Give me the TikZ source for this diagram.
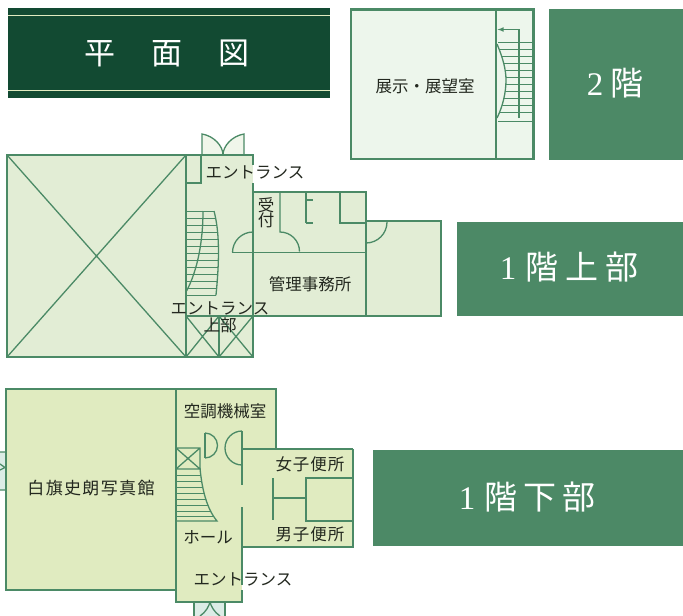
\documentclass[tikz,border=0pt]{standalone}
\usepackage{fontspec}
\setmainfont{Noto Sans CJK JP}
\newfontfamily\latinserif{Liberation Serif}
\definecolor{wall}{HTML}{4B8A66}
\definecolor{band}{HTML}{4C8966}
\definecolor{dark}{HTML}{124A32}
\definecolor{roomA}{HTML}{E2EDD5}
\definecolor{roomB}{HTML}{E0EBC0}
\definecolor{roomC}{HTML}{EDF6EC}
\definecolor{doorblue}{HTML}{DCECE6}
\definecolor{ink}{HTML}{23281F}
\tikzset{
  wallline/.style={draw=wall,line width=2.1pt,line join=miter},
  thin wall/.style={draw=wall,line width=1.3pt},
  label/.style={inner sep=0pt,text=ink,font=\fontsize{16.5}{18}\selectfont,align=center},
  bandbox/.style={fill=band,draw=none},
  bandtext/.style={inner sep=0pt,text=white,font=\fontsize{33}{36}\selectfont},
}
\begin{document}
\begin{tikzpicture}[x=1pt,y=-1pt]
\useasboundingbox[fill=white] (0,0) rectangle (683,616);
% title
\fill[dark] (8,8) rectangle (330,98);
\draw[draw=roomB,line width=1pt] (8,15.5) -- (330,15.5) (8,90.5) -- (330,90.5);
\node[inner sep=0pt,text=white,font=\fontsize{31}{34}\selectfont] (title) at (167,53) {平\hspace{36pt}面\hspace{36pt}図};
% bands
\fill[bandbox] (549,9) rectangle (683,160);
\node[bandtext] (b2) at (615,83) {{\latinserif 2}\hspace{7pt}階};
\fill[bandbox] (457,222) rectangle (683,316);
\node[bandtext] (b1u) at (569,267) {{\latinserif 1}\hspace{9pt}階\hspace{7pt}上\hspace{7pt}部};
\fill[bandbox] (373,450) rectangle (683,546);
\node[bandtext] (b1l) at (527,497) {{\latinserif 1}\hspace{9pt}階\hspace{6pt}下\hspace{6pt}部};
% ---------- 2F
\filldraw[wallline,fill=roomC] (351,9.5) rectangle (533.5,159);
\draw[wallline] (496,9.5) -- (496,159);
\foreach \yy in {42,49,56,63,70,77,84,91,98,105,112,121}
  \draw[wall,line width=1pt] (498,\yy) -- (532,\yy);
\fill[roomC] (497.2,43) .. controls (503,58) and (506,70) .. (506,80) .. controls (506,92) and (503,106) .. (497.2,119) -- cycle;
\draw[thin wall] (497,44) .. controls (503,58) and (506,70) .. (506,80) .. controls (506,92) and (503,106) .. (497,118);
\draw[wall,line width=1.1pt,-latex] (519,118) -- (519,29.5) -- (497.5,29.5);
\node[label] (r2) at (425,86) {展示・展望室};
% ---------- 1F upper
\fill[roomA!50!white] (202,134) .. controls (214,136) and (223,146) .. (223,155) .. controls (223,146) and (232,136) .. (244,134) -- (244,155) -- (202,155) -- cycle;
\draw[thin wall] (202,155) -- (202,134) .. controls (214,136) and (223,146) .. (223,155) .. controls (223,146) and (232,136) .. (244,134) -- (244,155);
\path[fill=roomA] (7,155) rectangle (253,357);
\path[fill=roomA] (253,192) rectangle (366,316);
\path[fill=roomA] (366,221) rectangle (441,316);
\draw[wallline] (253,165) -- (253,155) -- (7,155) -- (7,357) -- (253,357) -- (253,192);
\draw[wallline] (253,183) -- (253,192) -- (366,192) -- (366,316);
\draw[wallline] (366,221) -- (441,221) -- (441,316) -- (253,316);
\draw[wallline] (186,155) -- (186,357);
\draw[thin wall] (7,155) -- (186,357) (186,155) -- (7,357);
\draw[thin wall] (186,183) -- (201,183) -- (201,155);
% stairs upper
\begin{scope}
\clip (186,205) -- (214,205) -- (214,211) .. controls (219,230) and (220,255) .. (216,296) -- (186,296) -- cycle;
\foreach \yy in {211,218,225,232,239,246,253,260,267,274,281,288,295}
  \draw[wall,line width=1pt] (186,\yy) -- (225,\yy);
\end{scope}
\draw[thin wall] (214,211) .. controls (219,230) and (220,255) .. (216,295);
\draw[thin wall] (203,211) .. controls (203,240) and (198,270) .. (186,292);
% grid lower
\draw[thin wall] (186,316) -- (253,316) (219,316) -- (219,357);
\draw[thin wall] (186,316) -- (219,357) (219,316) -- (186,357) (219,316) -- (253,357) (253,316) -- (219,357);
% interior
\draw[thin wall] (280,192) -- (280,232) arc[start angle=-90,end angle=0,radius=19.5];
\draw[thin wall] (253,232) arc[start angle=-90,end angle=-180,radius=20.5];
\draw[thin wall] (232,252.5) -- (366,252.5);
\draw[thin wall] (306,193) -- (306,223) (306,200) -- (313,200) (306,223) -- (313,223);
\draw[thin wall] (340,192) -- (340,223) -- (366,223);
\draw[thin wall] (366,243) arc[start angle=90,end angle=0,radius=21];
\node[label] (eu1) at (255,172) {エントランス};
\node[label] (uk) at (266,212.5) {受\\[-3pt]付};
\node[label] (kanri) at (310,284) {管理事務所};
\node[label] (eu2) at (220,308) {エントランス};
\node[label] (jb) at (220,325) {上部};
% ---------- 1F lower
\fill[doorblue] (0,452) rectangle (6,490);
\draw[thin wall] (0,452) -- (6,452) (0,490) -- (6,490) (0,464) -- (5,467.5) -- (0,470);
\fill[doorblue] (194,602) rectangle (225,616);
\draw[thin wall] (194,602) -- (194,616) (225,602) -- (225,616);
\draw[thin wall] (200,616) .. controls (206,612) and (209,606) .. (210,602) .. controls (211,606) and (214,612) .. (220,616);
\path[fill=roomB] (6,389) rectangle (176,590);
\path[fill=roomB] (176,389) rectangle (276,449);
\path[fill=roomB] (176,449) rectangle (242,602);
\path[fill=roomB] (242,449) rectangle (353,547);
\draw[wallline] (176,590) -- (6,590) -- (6,389) -- (276,389) -- (276,449);
\draw[wallline] (353,449) -- (353,547) -- (242,547) -- (242,507);
\draw[wallline] (242,547) -- (242,585) (242,590) -- (242,602) -- (176,602) -- (176,389);
\draw[wallline] (353,449) -- (276,449);
\draw[thin wall] (242,449) -- (276,449);
\draw[thin wall] (242,431) -- (242,485);
\draw[thin wall] (205,433) -- (205,458);
\draw[thin wall] (205,433) arc[start angle=-90,end angle=90,radius=12.5];
\draw[thin wall] (242,431) arc[start angle=-90,end angle=-270,radius=17];
\draw[thin wall] (176,448) -- (200,448) -- (200,469) -- (176,469) (176,448) -- (200,469) (200,448) -- (176,469);
\begin{scope}
\clip (176,469) -- (200,469) .. controls (202,490) and (207,509) .. (217,521) -- (176,521) -- cycle;
\foreach \yy in {475,481,487,493,499,505,511,516}
  \draw[wall,line width=1pt] (176,\yy) -- (220,\yy);
\end{scope}
\draw[thin wall] (200,468) .. controls (202,490) and (207,509) .. (217,521) -- (176,521);
\draw[thin wall] (306,478) rectangle (353,521);
\draw[thin wall] (273,478) -- (273,520) (273,498) -- (306,498);
\node[label,font=\fontsize{17}{18}\selectfont\addfontfeature{LetterSpace=8}] (hs) at (91,488) {白旗史朗写真館};
\node[label] (ku) at (225,411) {空調機械室};
\node[label,font=\fontsize{16.5}{18}\selectfont\addfontfeature{LetterSpace=6}] (wo) at (310,464) {女子便所};
\node[label,font=\fontsize{16.5}{18}\selectfont\addfontfeature{LetterSpace=6}] (me) at (310,534) {男子便所};
\node[label] (ho) at (208,537) {ホール};
\node[label] (el) at (243,579) {エントランス};
\end{tikzpicture}
\end{document}
